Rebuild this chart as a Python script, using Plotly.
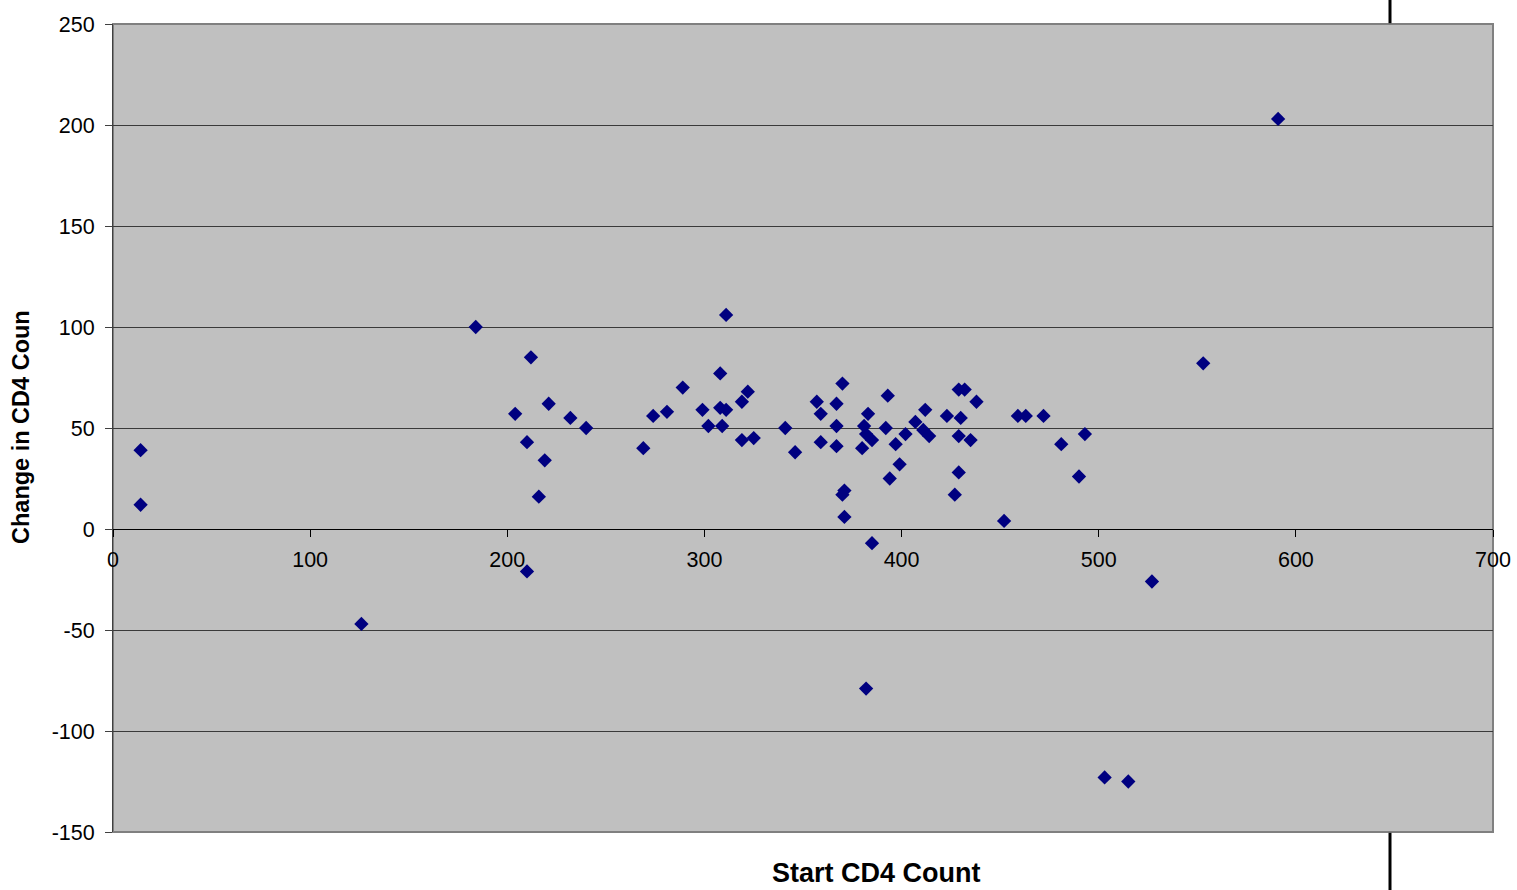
import plotly.graph_objects as go

start_cd4 = [14, 14, 184, 126, 204, 212, 210, 210, 221, 216, 219, 232, 240, 269, 274, 281,
             289, 299, 302, 308, 311, 308, 311, 309, 319, 322, 319, 325, 341, 346, 357, 359,
             359, 370, 367, 367, 367, 380, 383, 381, 382, 385, 393, 392, 397, 402, 399, 394,
             407, 412, 411, 414, 423, 429, 432, 430, 438, 429, 435, 429, 427, 370, 371, 371,
             385, 452, 459, 463, 472, 481, 493, 490, 382, 503, 515, 527, 553, 591]
change_cd4 = [39, 12, 100, -47, 57, 85, 43, -21, 62, 16, 34, 55, 50, 40, 56, 58,
              70, 59, 51, 77, 106, 60, 59, 51, 63, 68, 44, 45, 50, 38, 63, 57,
              43, 72, 62, 51, 41, 40, 57, 51, 47, 44, 66, 50, 42, 47, 32, 25,
              53, 59, 49, 46, 56, 69, 69, 55, 63, 46, 44, 28, 17, 17, 19, 6,
              -7, 4, 56, 56, 56, 42, 47, 26, -79, -123, -125, -26, 82, 203]

x_ticks = [0, 100, 200, 300, 400, 500, 600, 700]
y_ticks = [-150, -100, -50, 0, 50, 100, 150, 200, 250]

font_family = "Arial, Liberation Sans, sans-serif"

fig = go.Figure()
fig.add_trace(go.Scatter(
    x=start_cd4, y=change_cd4, mode="markers",
    marker=dict(symbol="diamond", size=11, color="#000080", line=dict(width=0)),
    showlegend=False, cliponaxis=False,
))

W, H = 1517, 890
L, R, T, B = 113, 24, 24, 58
pw = W - L - R
ph = H - T - B

fig.update_layout(
    width=W, height=H,
    margin=dict(l=L, r=R, t=T, b=B, autoexpand=False),
    paper_bgcolor="white", plot_bgcolor="#C0C0C0",
    font=dict(family=font_family, size=21.5, color="black"),
    xaxis=dict(
        range=[0, 700], tickvals=x_ticks, ticktext=[str(v) for v in x_ticks],
        showgrid=False, zeroline=False, automargin=False,
        anchor="free", position=0.375,
        showline=True, linecolor="black", linewidth=1,
        ticks="outside", ticklen=7, tickcolor="black",
        tickfont=dict(size=21.5), ticklabelstandoff=4,
    ),
    yaxis=dict(
        range=[-150, 250], tickvals=y_ticks, ticktext=[str(v) for v in y_ticks],
        showgrid=True, gridcolor="#3a3a3a", gridwidth=1, zeroline=False, automargin=False,
        showline=True, linecolor="#404040", linewidth=1,
        ticks="outside", ticklen=7, tickcolor="#404040",
        tickfont=dict(size=21.5), ticklabelstandoff=6,
    ),
    shapes=[
        dict(type="rect", xref="paper", yref="paper", x0=0, x1=1, y0=0, y1=1,
             line=dict(color="#808080", width=2), layer="below"),
        dict(type="line", xref="paper", yref="paper",
             x0=(1390 - L) / pw, x1=(1390 - L) / pw,
             y0=1.001, y1=1.05, line=dict(color="black", width=3)),
        dict(type="line", xref="paper", yref="paper",
             x0=(1390 - L) / pw, x1=(1390 - L) / pw,
             y0=-0.001, y1=-0.08, line=dict(color="black", width=3)),
    ],
    annotations=[
        dict(text="<b>Start CD4 Count</b>", xref="paper", yref="paper",
             x=(877 - L) / pw, y=-(889 - (H - B)) / ph, xanchor="center", yanchor="bottom",
             showarrow=False, font=dict(size=27), borderpad=0),
        dict(text="<b>Change in CD4 Coun</b>", xref="paper", yref="paper",
             x=-(L - 21) / pw, y=((H - B) - 427) / ph, xanchor="center", yanchor="middle",
             textangle=-90, showarrow=False, font=dict(size=23.5)),
    ],
)

fig.write_html("out.html")
